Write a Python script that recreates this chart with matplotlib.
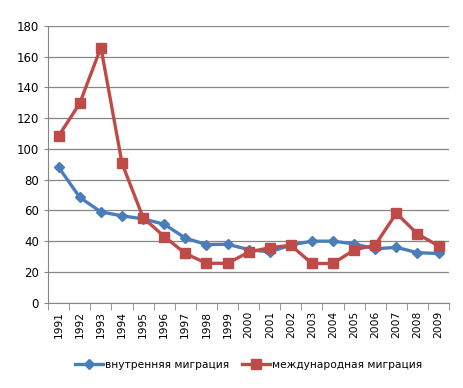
import matplotlib.pyplot as plt
import numpy as np

years = [str(y) for y in range(1991, 2010)]
internal = [88, 68.5, 59, 56.5, 54.5, 51, 42, 37.8, 38, 34.5, 33, 37.5, 40, 40, 38.2, 35, 36, 32.5, 32]
international = [108.5, 129.8, 166, 90.7, 55.3, 43, 32, 25.6, 25.6, 32.8, 35.8, 37.3, 25.5, 25.5, 34.3, 37.5, 58.2, 44.7, 36.9]

plt.rcParams['font.family'] = ['DejaVu Sans']
fig = plt.figure(figsize=(4.63, 3.88), dpi=100)
ax = fig.add_axes([0.104, 0.22, 0.866, 0.713])

x = np.arange(len(years))
ax.plot(x, internal, color='#4A7EBB', lw=2.4, marker='D', ms=5, label='внутренняя миграция')
ax.plot(x, international, color='#BE4B48', lw=2.4, marker='s', ms=7, label='международная миграция')

ax.set_ylim(0, 180)
ax.set_yticks(range(0, 181, 20))
ax.set_xlim(-0.5, len(years) - 0.5)
ax.set_xticks(x)
ax.set_xticklabels(years, rotation=90, fontsize=7.7)
ax.set_xticks(np.arange(-0.5, len(years)), minor=True)
ax.tick_params(axis='x', which='major', length=0, pad=6)
ax.tick_params(axis='x', which='minor', length=5, color='#868686')
ax.tick_params(axis='y', length=3, color='#868686', labelsize=8.5)

ax.grid(axis='y', color='#868686', lw=0.9)
ax.set_axisbelow(True)
for s in ['top', 'right']:
    ax.spines[s].set_visible(False)
for s in ['left', 'bottom']:
    ax.spines[s].set_color('#868686')

fig.legend(loc='center', bbox_to_anchor=(0.537, 0.06), ncol=2, frameon=False,
           fontsize=7.7, handlelength=2.6, columnspacing=1.2, handletextpad=0.2)

fig.savefig('out.png', dpi=100)
